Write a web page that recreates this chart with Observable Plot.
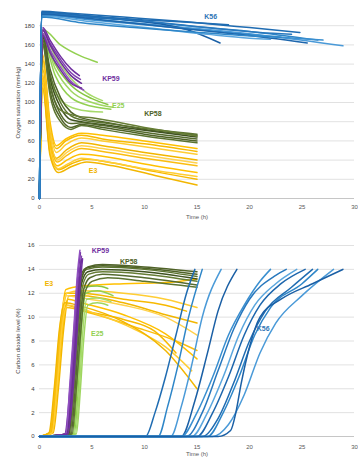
<!DOCTYPE html>
<html><head><meta charset="utf-8">
<script src="https://cdn.jsdelivr.net/npm/d3@7"></script>
<script src="https://cdn.jsdelivr.net/npm/@observablehq/plot@0.6"></script>
<style>
body{margin:0;background:#fff;font-family:"Liberation Sans",Arial,sans-serif;}
svg{display:block;}
</style></head><body>
<div id="top"></div><div id="bottom"></div>
<script>
// ---------- DATA: oxygen (top) ----------
const timeTicks = [0, 5, 10, 15, 20, 25, 30];
const oxygenTicks = [0, 20, 40, 60, 80, 100, 120, 140, 160, 180];
const co2Ticks = [0, 2, 4, 6, 8, 10, 12, 14, 16];

const oxyE3 = [
  [[0,0],[0.3,150],[1,80],[1.6,55],[2.5,62],[4,68],[6,66],[10,60],[15,52]],
  [[0,0],[0.3,145],[1,75],[1.6,52],[2.5,60],[4,66],[6,62],[10,57],[15,49]],
  [[0,0],[0.3,140],[1,72],[1.6,48],[2.5,56],[4,63],[6,60],[10,54],[15,46]],
  [[0,0],[0.3,135],[1,65],[1.6,42],[2.5,50],[4,58],[6,55],[10,48],[15,40]],
  [[0,0],[0.3,130],[1,62],[1.7,40],[2.6,48],[4,55],[6,52],[10,45],[15,37]],
  [[0,0],[0.3,128],[1,60],[1.7,38],[2.6,45],[4,52],[6,49],[10,42],[15,34]],
  [[0,0],[0.3,125],[1,55],[1.7,34],[2.6,40],[4,46],[6,44],[10,36],[15,27]],
  [[0,0],[0.3,120],[1,48],[1.8,30],[3,36],[4.5,41],[7,37],[11,28],[15,20]],
  [[0,0],[0.3,118],[1,50],[1.8,31],[2.7,36],[4,42],[6,39],[10,31],[15,23]],
  [[0,0],[0.3,115],[1,45],[1.8,27],[3,33],[4.5,38],[7,34],[11,24],[15,14]]
];
const oxyE25 = [
  [[0,0],[0.3,176],[2,160],[4,148],[5.5,142]],
  [[0,0],[0.3,172],[1.5,148],[3,125],[4.5,110],[6,102]],
  [[0,0],[0.3,170],[1.5,140],[3,118],[5,104],[6.5,98]],
  [[0,0],[0.3,168],[1.5,135],[3,112],[5,100],[7,95]],
  [[0,0],[0.3,165],[1.5,128],[3,105],[5,96],[6.8,93]],
  [[0,0],[0.3,160],[1.2,120],[2.5,98],[4,92],[6,90]]
];
const oxyKP58 = [
  [[0,0],[0.3,172],[1,135],[2,105],[3,90],[4,84],[6,80],[10,72],[15,66]],
  [[0,0],[0.3,170],[1,130],[2,100],[3,86],[4,82],[6,79],[10,73],[15,67]],
  [[0,0],[0.3,168],[1,125],[2,95],[3,82],[4,80],[6,77],[10,71],[15,64]],
  [[0,0],[0.3,166],[1,120],[2,92],[3.5,86],[5,84],[10,74],[15,65]],
  [[0,0],[0.3,165],[1,118],[2,88],[3,78],[4,79],[6,76],[10,69],[15,62]],
  [[0,0],[0.3,162],[1,112],[2,84],[3,74],[4,77],[6,74],[10,67],[15,60]],
  [[0,0],[0.3,160],[1,108],[2,80],[3,72],[4,76],[6,72],[10,65],[15,58]]
];
const oxyKP59 = [
  [[0,0],[0.3,178],[1,165],[2,148],[3,135],[3.8,128]],
  [[0,0],[0.3,176],[1,162],[2,145],[3,131],[3.9,124]],
  [[0,0],[0.3,175],[1,160],[2,142],[3,128],[4,120]],
  [[0,0],[0.3,172],[1,155],[2,137],[3,122],[4.2,113]],
  [[0,0],[0.3,170],[1,152],[2,134],[3,120],[4,115]]
];
const oxyK56 = [
  [[0,0],[0.2,195],[3,193],[8,189],[14,184],[20,178],[24.8,173]],
  [[0,0],[0.2,193],[3,190],[8,186],[14,180],[20,174],[26.5,165]],
  [[0,0],[0.2,192],[4,188],[10,182],[16,176],[22,169],[28.9,159]],
  [[0,0],[0.2,194],[5,189],[10,184],[14,176],[17.2,162]],
  [[0,0],[0.2,191],[5,186],[12,179],[18,173],[23,168],[27,165]],
  [[0,0],[0.2,193],[4,190],[10,185],[15,179],[21,173],[24,171]],
  [[0,0],[0.2,190],[5,184],[11,177],[16,171],[20,167],[22,166]],
  [[0,0],[0.2,192],[6,186],[12,179],[19,171],[25.5,162]],
  [[0,0],[0.2,194],[5,190],[10,186],[15,183],[18,181]],
  [[0,0],[0.2,189],[4,183],[9,178],[14,174],[19,170],[23,168]]
];
const oxygenLabels = [
  {name: "K56", t: 16.3, v: 189},
  {name: "KP59", t: 6.8, v: 125},
  {name: "E25", t: 7.5, v: 97},
  {name: "KP58", t: 10.8, v: 88},
  {name: "E3", t: 5.1, v: 29}
];

// ---------- DATA: carbon dioxide (bottom) ----------
const co2E3 = [
  [[0,0],[1.0,0.3],[1.5,4],[2.0,9],[2.5,12.3],[4,12.6],[8,12.8],[12,12.9],[15,13.2]],
  [[0,0],[1.0,0.3],[1.5,4],[2.0,9],[2.5,12],[4,12],[8,11.5],[12,11],[14,10.5]],
  [[0,0],[1.1,0.3],[1.6,4],[2.1,9],[2.6,12],[4,12.2],[8,12.0],[12,11.5],[15,10.8]],
  [[0,0],[1.3,0.3],[1.8,4],[2.3,9],[2.8,11.8],[4,11.8],[8,11.2],[12,10.2],[15,9.5]],
  [[0,0],[1.0,0.3],[1.5,4.5],[2.0,9.5],[2.5,11.8],[4,11.6],[8,11.0],[12,10],[15,8.5]],
  [[0,0],[1.0,0.3],[1.5,4],[2.0,8.8],[2.5,10.8],[5,10.3],[9,9.2],[13,8],[15,7.2]],
  [[0,0],[1.2,0.3],[1.7,4],[2.2,9],[2.7,11.5],[4,11.2],[8,10.2],[12,8.6],[15,6.5]],
  [[0,0],[1.1,0.3],[1.6,4],[2.1,8.5],[2.6,11],[4,10.6],[8,9.8],[11,8.8],[13,7]],
  [[0,0],[1.2,0.3],[1.7,4.5],[2.2,9.5],[2.7,11],[5,10.4],[9,9],[12,7.5],[14.5,5.5]],
  [[0,0],[0.9,0.3],[1.4,4],[1.9,9],[2.4,11.2],[4,10.9],[8,9.6],[12,7.2],[15,4]]
];
const co2E25 = [
  [[0,0],[3.3,0.2],[3.7,4],[4.0,9],[4.4,12],[5.5,12.2],[7,11.8]],
  [[0,0],[3.4,0.2],[3.8,4],[4.1,8.5],[4.5,11.5],[5.5,11.6],[6.8,11.3]],
  [[0,0],[3.2,0.2],[3.6,4.5],[3.9,9.5],[4.3,12.5],[5.5,12.6],[6.5,12.4]],
  [[0,0],[3.5,0.2],[3.9,4],[4.2,8],[4.6,11],[5.5,11.2],[6.5,11]]
];
const co2KP58 = [
  [[0,0],[2.6,0.2],[3.0,4],[3.4,9],[3.8,13],[4.4,14.1],[6,14.3],[10,14.1],[15,13.6]],
  [[0,0],[2.7,0.2],[3.1,4],[3.5,9],[3.9,13],[4.5,14],[6,14.2],[10,14],[15,13.4]],
  [[0,0],[2.8,0.2],[3.2,4],[3.6,9],[4.0,12.8],[4.6,13.8],[6,14],[10,13.8],[15,13.2]],
  [[0,0],[2.9,0.2],[3.3,4],[3.7,9],[4.1,12.6],[4.7,13.6],[6,13.8],[10,13.6],[15,13]],
  [[0,0],[3.0,0.2],[3.4,4],[3.8,9],[4.2,12.3],[4.8,13.3],[6,13.6],[10,13.3],[15,12.7]],
  [[0,0],[2.8,0.2],[3.2,4.5],[3.6,9.5],[4.0,13.2],[4.6,14.2],[6,14.4],[10,14.2],[15,13.8]],
  [[0,0],[3.1,0.2],[3.5,4],[3.9,8.5],[4.3,12],[5,13],[6.5,13.3],[10,13],[15,12.5]]
];
const co2KP59 = [
  [[0,0],[2.4,0.2],[2.9,4],[3.3,9],[3.6,13],[3.9,15.4]],
  [[0,0],[2.5,0.2],[3.0,4],[3.4,9],[3.7,13],[4.0,15.1]],
  [[0,0],[2.6,0.2],[3.1,4],[3.5,9],[3.8,13],[4.0,14.8]],
  [[0,0],[2.5,0.2],[2.9,4.5],[3.3,9.5],[3.6,13.5],[3.85,15.6]],
  [[0,0],[2.7,0.2],[3.2,4],[3.6,9],[3.9,13],[4.1,14.9]]
];
const co2K56 = [
  [[0,0],[10.1,0],[11,2],[12,5],[13,8.5],[14,12],[14.8,14]],
  [[0,0],[11.3,0],[12.2,2.5],[13.2,6],[14.2,10],[15.5,14]],
  [[0,0],[12.5,0],[13.5,2.5],[14.5,6],[15.5,10],[17.3,14]],
  [[0,0],[13.5,0],[14.8,3],[16,7],[17,10.5],[18.8,14]],
  [[0,0],[13.5,0],[15,2],[16.5,5],[18,8.5],[19.5,11],[21,13],[22,14]],
  [[0,0],[14,0],[15.5,2],[17,5.5],[18.5,9],[20,11.5],[22.5,13.5],[23.5,14]],
  [[0,0],[14.5,0],[16,2],[17.5,5],[19,8.5],[20.5,11],[22.5,12.8],[24.5,14]],
  [[0,0],[15,0],[16.5,2],[18,5],[19.5,8.5],[21,11],[23,12.8],[25.3,14]],
  [[0,0],[15.5,0],[17,1.5],[18.5,4.5],[20,8],[21.5,10.5],[24,12.5],[26,14]],
  [[0,0],[16,0],[17.5,2],[19,5],[20.5,8.5],[22,10.8],[25,12.8],[26.5,14]],
  [[0,0],[16.5,0],[18,1],[19.5,3.5],[21,7],[22.5,9.5],[25,11.8],[28,14]],
  [[0,0],[17,0],[18.2,0.5],[18.7,2],[19.2,4.4],[20,7.5],[21,10],[23,11.5],[26,12.8],[28.9,14]]
];
const co2Labels = [
  {name: "KP59", t: 5.8, v: 15.6},
  {name: "KP58", t: 8.5, v: 14.6},
  {name: "E3", t: 0.9, v: 12.8},
  {name: "E25", t: 5.5, v: 8.6},
  {name: "K56", t: 21.3, v: 9.0}
];

// ---------- STYLE ----------
const palettes = {
  E3: ["#ffc000", "#f7b900", "#ffcd33", "#f2b600", "#ffd24d", "#fbbd10"],
  E25: ["#92d050", "#a6da6a", "#86c640", "#9fd660"],
  KP58: ["#4f6228", "#5b7330", "#3f5220", "#667d35", "#556b2f"],
  KP59: ["#7030a0", "#8040b0", "#6a2c98", "#9050c0"],
  K56: ["#1f6cb2", "#2e86c8", "#4a9ad8", "#1a5fa5", "#3a8fd0", "#2878be", "#5aa6de", "#1d66ad"]
};
const labelColors = {E3: "#f0b400", E25: "#92d050", KP58: "#4f6228", KP59: "#7030a0", K56: "#2e75b6"};

function rows(groups) {
  const out = [];
  for (const [name, curves] of groups) {
    curves.forEach((c, i) => {
      const color = palettes[name][i % palettes[name].length];
      c.forEach(([t, v]) => out.push({id: name + i, name, t, v, color}));
    });
  }
  return out;
}

const oxyRows = rows([["E3", oxyE3], ["E25", oxyE25], ["KP58", oxyKP58], ["KP59", oxyKP59], ["K56", oxyK56]]);
const co2Rows = rows([["E3", co2E3], ["E25", co2E25], ["KP58", co2KP58], ["KP59", co2KP59], ["K56", co2K56]]);

function chart(data, labels, opts) {
  return Plot.plot({
    width: 358,
    height: opts.height,
    marginLeft: 39,
    marginRight: 4,
    marginTop: opts.marginTop,
    marginBottom: opts.marginBottom,
    style: {fontFamily: "Liberation Sans, Arial, sans-serif", background: "#fff"},
    x: {domain: [0, 30]},
    y: {domain: opts.domain},
    color: {type: "identity"},
    marks: [
      Plot.gridY(opts.ticks, {stroke: "#d9d9d9", strokeOpacity: 1, strokeWidth: 0.8}),
      Plot.ruleY([0], {stroke: "#bfbfbf", strokeWidth: 0.8}),
      Plot.axisX(timeTicks, {tickSize: 0, tickPadding: opts.xPad, fontSize: 6, fill: "#595959",
        label: "Time (h)", labelAnchor: "center", labelOffset: opts.xLabelOffset, labelArrow: "none"}),
      Plot.axisY(opts.ticks, {tickSize: 0, tickPadding: 5, fontSize: 6, fill: "#404040",
        label: opts.ylabel, labelAnchor: "center", labelOffset: 24, labelArrow: "none"}),
      Plot.line(data, {x: "t", y: "v", z: "id", stroke: "color", strokeWidth: 1.5, curve: "monotone-x"}),
      Plot.text(labels, {x: "t", y: "v", text: "name", fill: d => labelColors[d.name],
        fontSize: 7, fontWeight: "bold"})
    ]
  });
}

document.getElementById("top").append(chart(oxyRows, oxygenLabels, {
  height: 228, marginTop: 6, marginBottom: 30, domain: [0, 200], ticks: oxygenTicks,
  xPad: 6, xLabelOffset: 20, ylabel: "Oxygen saturation (mmHg)"
}));
document.getElementById("bottom").append(chart(co2Rows, co2Labels, {
  height: 231, marginTop: 17, marginBottom: 23, domain: [0, 16], ticks: co2Ticks,
  xPad: 8, xLabelOffset: 19, ylabel: "Carbon dioxide level (%)"
}));
</script>
</body></html>
